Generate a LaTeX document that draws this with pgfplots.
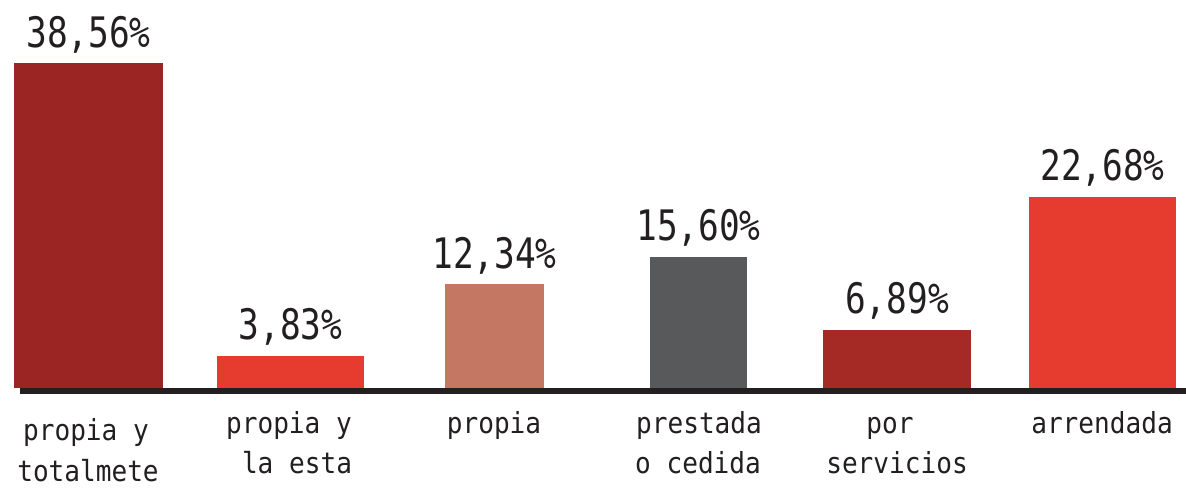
\documentclass[border=0pt]{standalone}
\usepackage{fontspec}
\usepackage{pgfplots}
\pgfplotsset{compat=1.18}
\newfontfamily\monofont[FakeStretch=0.9]{DejaVu Sans Mono}
\newfontfamily\valfont[FakeStretch=0.82]{DejaVu Sans Mono}
\definecolor{cA}{HTML}{9B2522}
\definecolor{cB}{HTML}{E63C30}
\definecolor{cC}{HTML}{C47762}
\definecolor{cD}{HTML}{58595B}
\definecolor{cE}{HTML}{A52A26}
\definecolor{txt}{HTML}{231F20}
\begin{document}
\begin{tikzpicture}
\begin{axis}[
  scale only axis, width=593pt, height=244.5pt,
  xmin=0, xmax=1186, ymin=-11.98, ymax=46.04,
  hide axis, clip=false,
  /pgf/number format/.cd, use comma, fixed, fixed zerofill, precision=2, assume math mode=true,
  /pgfplots/.cd,
  every axis plot/.append style={ybar, bar shift=0pt, draw=none,
    nodes near coords={\pgfmathprintnumber{\pgfplotspointmeta}\%},
    point meta=y,
    nodes near coords style={font=\valfont\fontsize{21}{24}\selectfont, text=txt, anchor=base, yshift=8pt}},
]
\addplot[fill=cA, bar width=149] coordinates {(88.5,38.56)};
\addplot[fill=cB, bar width=147] coordinates {(290.5,3.83)};
\addplot[fill=cC, bar width=99] coordinates {(494.5,12.34)};
\addplot[fill=cD, bar width=97] coordinates {(698.5,15.60)};
\addplot[fill=cE, bar width=148] coordinates {(897,6.89)};
\addplot[fill=cB, bar width=147] coordinates {(1102.5,22.68)};
\draw[line width=3pt, txt] (axis cs:20,-0.356) -- (axis cs:1186,-0.356);
\begin{scope}[every node/.style={font=\monofont\fontsize{14.5}{17}\selectfont, text=txt, anchor=base}]
\node at (axis cs:86,-6.17) {propia y};
\node at (axis cs:88,-11.15) {totalmete};
\node at (axis cs:289,-5.34) {propia y};
\node at (axis cs:297,-10.1) {la esta};
\node at (axis cs:494,-5.34) {propia};
\node at (axis cs:699,-5.34) {prestada};
\node at (axis cs:698,-10.1) {o cedida};
\node at (axis cs:890,-5.34) {por};
\node at (axis cs:897,-10.1) {servicios};
\node at (axis cs:1102,-5.34) {arrendada};
\end{scope}
\end{axis}
\pgfresetboundingbox
\path (current axis.south west) rectangle (current axis.north east);
\end{tikzpicture}
\end{document}
